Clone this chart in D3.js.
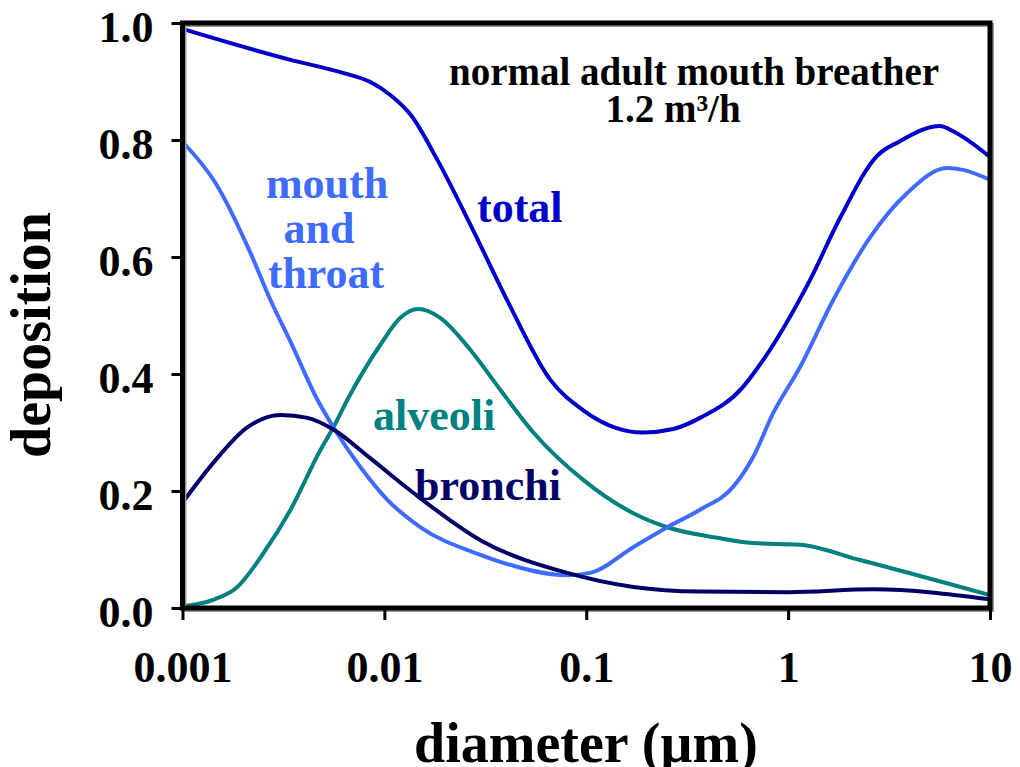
<!DOCTYPE html>
<html>
<head>
<meta charset="utf-8">
<script src="https://cdn.jsdelivr.net/npm/d3@7"></script>
<style>
html,body{margin:0;padding:0;background:#fff;}
svg{display:block;}
text{font-family:"Liberation Serif","Times New Roman",serif;font-weight:bold;}
</style>
</head>
<body>
<svg id="chart" width="1020" height="767"></svg>
<script>
// ---- data (diameter in µm, deposition fraction) ----
const totalD = [0.001,0.00343,0.00605,0.00853,0.0107,0.0135,0.0183,0.0267,0.0406,0.0664,0.0966,0.14,0.19,0.27,0.366,0.598,0.671,1.285,1.81,2.76,3.58,5.65,6.56,10];
const totalV = [0.99,0.937,0.916,0.899,0.877,0.843,0.766,0.655,0.526,0.39,0.338,0.308,0.300,0.306,0.325,0.378,0.400,0.561,0.667,0.773,0.798,0.824,0.815,0.771];

const mouthD = [0.001,0.00146,0.00217,0.00273,0.00343,0.00466,0.00559,0.0076,0.01035,0.0151,0.0299,0.0375,0.0805,0.1047,0.171,0.252,0.366,0.534,0.671,0.843,1.146,1.67,2.55,3.88,6.12,7.35,10];
const mouthV = [0.797,0.726,0.607,0.526,0.455,0.356,0.309,0.241,0.185,0.138,0.091,0.079,0.056,0.06,0.104,0.138,0.168,0.207,0.258,0.333,0.412,0.526,0.634,0.709,0.752,0.749,0.732];

const bronchiD = [0.001,0.00142,0.0021,0.00306,0.00416,0.00559,0.00824,0.0139,0.0299,0.0805,0.171,0.366,1.0,2.64,10];
const bronchiV = [0.18,0.248,0.309,0.33,0.325,0.305,0.26,0.197,0.116,0.06,0.036,0.028,0.027,0.032,0.015];

const alveoliD = [0.001,0.00142,0.00187,0.00252,0.00343,0.00482,0.00559,0.00656,0.00955,0.012,0.0147,0.0189,0.0267,0.0375,0.0547,0.0966,0.171,0.252,0.446,0.671,1.146,2.27,10];
const alveoliV = [0.003,0.014,0.036,0.094,0.168,0.27,0.309,0.356,0.45,0.496,0.511,0.496,0.441,0.373,0.30,0.219,0.162,0.138,0.12,0.111,0.108,0.082,0.022];

const xTicks = [0.001,0.01,0.1,1,10];
const xTickLabels = ["0.001","0.01","0.1","1","10"];
const yTicks = [0,0.2,0.4,0.6,0.8,1.0];
const yTickLabels = ["0.0","0.2","0.4","0.6","0.8","1.0"];

const seriesNames = ["total","mouth and throat","alveoli","bronchi"];
const colors = {"total":"#0000c8","mouth and throat":"#3f6cff","alveoli":"#008080","bronchi":"#000066"};

// ---- layout ----
const svg = d3.select("#chart");
const L = 182.5, R = 990, T = 23, B = 608;
const x = d3.scaleLog().domain([0.001,10]).range([L,R]);
const y = d3.scaleLinear().domain([0,1]).range([B,T]);

const line = d3.line()
  .x(d=>x(d[0])).y(d=>y(d[1]))
  .curve(d3.curveMonotoneX);

function pairs(D,V){return D.map((d,i)=>[d,V[i]]);}
const series = [
  {name:"alveoli", pts:pairs(alveoliD,alveoliV)},
  {name:"mouth and throat", pts:pairs(mouthD,mouthV)},
  {name:"bronchi", pts:pairs(bronchiD,bronchiV)},
  {name:"total", pts:pairs(totalD,totalV)}
];

svg.append("g").selectAll("path").data(series).join("path")
  .attr("d",d=>line(d.pts))
  .attr("fill","none")
  .attr("stroke",d=>colors[d.name])
  .attr("stroke-width",4)
  .attr("stroke-linejoin","round");

// frame shadow + frame
svg.append("rect").attr("x",L+2).attr("y",T+2).attr("width",R-L).attr("height",B-T)
  .attr("fill","none").attr("stroke","#999").attr("stroke-width",4);
svg.append("rect").attr("x",L).attr("y",T).attr("width",R-L).attr("height",B-T)
  .attr("fill","none").attr("stroke","#000").attr("stroke-width",5);

// axes
const xAxis = d3.axisBottom(x).tickValues(xTicks).tickFormat((d,i)=>xTickLabels[i]).tickSize(12).tickPadding(30);
const gx = svg.append("g").attr("transform",`translate(0,${B})`).call(xAxis);
gx.select(".domain").remove();
gx.selectAll(".tick line").attr("stroke","#000").attr("stroke-width",3).attr("y1",-2);
gx.selectAll(".tick text").attr("font-size",44).attr("fill","#000")
  .attr("font-family",'"Liberation Serif","Times New Roman",serif').attr("font-weight","bold")
  .attr("dy",null).attr("y",74);

const yAxis = d3.axisLeft(y).tickValues(yTicks).tickFormat((d,i)=>yTickLabels[i]).tickSize(11).tickPadding(30);
const gy = svg.append("g").attr("transform",`translate(${L},0)`).call(yAxis);
gy.select(".domain").remove();
gy.selectAll(".tick line").attr("stroke","#000").attr("stroke-width",3);
gy.selectAll(".tick text").attr("font-size",44).attr("fill","#000")
  .attr("font-family",'"Liberation Serif","Times New Roman",serif').attr("font-weight","bold")
  .attr("x",-29).attr("dy",null).attr("y",18);

// axis titles
svg.append("text").attr("x",586).attr("y",762).attr("text-anchor","middle")
  .attr("font-size",56).text("diameter (µm)");
svg.append("text").attr("transform","translate(50,335) rotate(-90)").attr("text-anchor","middle")
  .attr("font-size",56).text("deposition");

// title
svg.append("text").attr("x",694).attr("y",85).attr("text-anchor","middle")
  .attr("font-size",39).text("normal adult mouth breather");
svg.append("text").attr("x",673).attr("y",122).attr("text-anchor","middle")
  .attr("font-size",39).text("1.2 m³/h");

// series labels
const lab = svg.append("g").attr("font-size",44);
lab.append("text").attr("x",327).attr("y",198).attr("text-anchor","middle").attr("fill",colors["mouth and throat"]).text("mouth");
lab.append("text").attr("x",319).attr("y",243).attr("text-anchor","middle").attr("fill",colors["mouth and throat"]).text("and");
lab.append("text").attr("x",326).attr("y",288).attr("text-anchor","middle").attr("fill",colors["mouth and throat"]).text("throat");
lab.append("text").attr("x",477).attr("y",222).attr("fill",colors["total"]).text("total");
lab.append("text").attr("x",373).attr("y",430).attr("fill",colors["alveoli"]).text("alveoli");
lab.append("text").attr("x",415).attr("y",500).attr("fill",colors["bronchi"]).text("bronchi");
</script>
</body>
</html>
